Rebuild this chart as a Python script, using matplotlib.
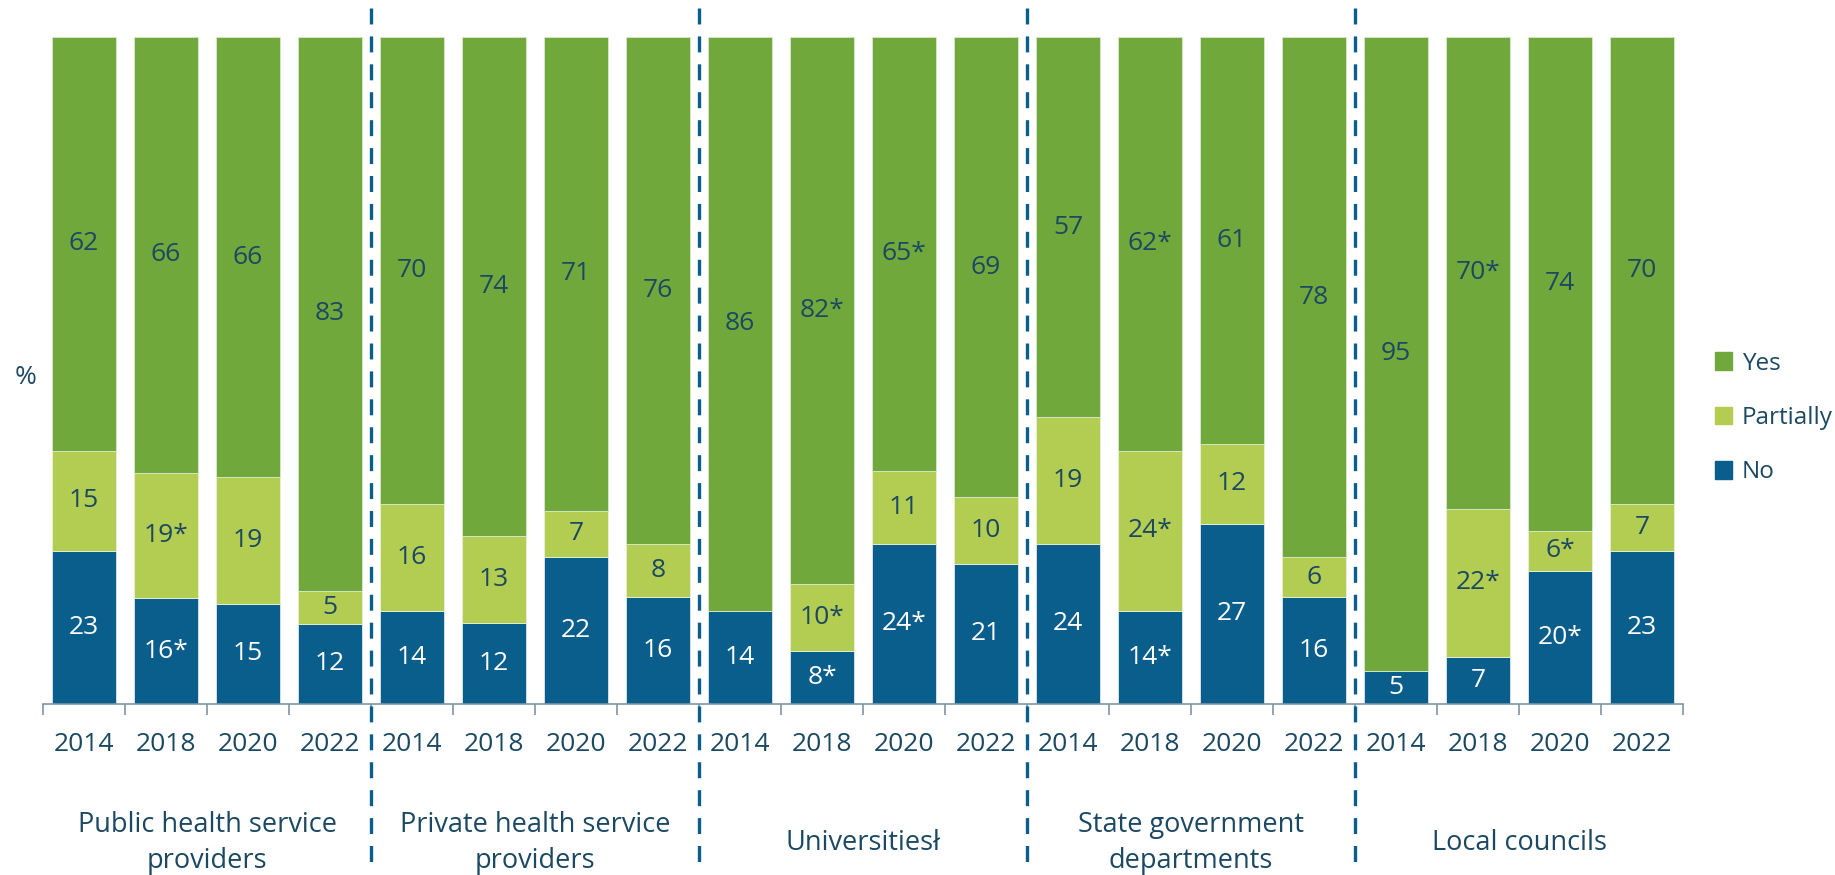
import numpy as np
import matplotlib
matplotlib.use("Agg")
import matplotlib.pyplot as plt
from matplotlib.patches import Patch
from matplotlib.transforms import blended_transform_factory

plt.rcParams['font.family'] = ['Open Sans', 'DejaVu Sans']
plt.rcParams['lines.scale_dashes'] = False

groups = ["Public health service\nproviders", "Private health service\nproviders",
          "Universitiesł", "State government\ndepartments", "Local councils"]
years = ["2014", "2018", "2020", "2022"]

no = [23, 16, 15, 12, 14, 12, 22, 16, 14, 8, 24, 21, 24, 14, 27, 16, 5, 7, 20, 23]
partially = [15, 19, 19, 5, 16, 13, 7, 8, 0, 10, 11, 10, 19, 24, 12, 6, 0, 22, 6, 7]
yes = [62, 66, 66, 83, 70, 74, 71, 76, 86, 82, 65, 69, 57, 62, 61, 78, 95, 70, 74, 70]

# significant change flags (marked with *)
no_sig = [0, 1, 0, 0, 0, 0, 0, 0, 0, 1, 1, 0, 0, 1, 0, 0, 0, 0, 1, 0]
partially_sig = [0, 1, 0, 0, 0, 0, 0, 0, 0, 1, 0, 0, 0, 1, 0, 0, 0, 1, 1, 0]
yes_sig = [0, 0, 0, 0, 0, 0, 0, 0, 0, 1, 1, 0, 0, 1, 0, 0, 0, 1, 0, 0]

C_YES = "#71a83c"
C_PART = "#b3cc52"
C_NO = "#0a5e8c"
C_TEXT = "#1b4862"

W, H = 1835, 875
fig = plt.figure(figsize=(W / 100, H / 100), dpi=100)
left, right, top, bottom = 43, 1683, 37, 704
ax = fig.add_axes([left / W, (H - bottom) / H, (right - left) / W, (bottom - top) / H])

n = len(no)
x = np.arange(n)
no_a = np.array(no, float)
pa_a = np.array(partially, float)
ye_a = np.array(yes, float)
total = no_a + pa_a + ye_a
no_h = no_a / total * 100
pa_h = pa_a / total * 100
ye_h = ye_a / total * 100

bw = 0.79
ax.bar(x, no_h, bw, color=C_NO, edgecolor="#dfe8ee", linewidth=0.6)
ax.bar(x, pa_h, bw, bottom=no_h, color=C_PART, edgecolor="#e8f0d8", linewidth=0.6)
ax.bar(x, ye_h, bw, bottom=no_h + pa_h, color=C_YES, edgecolor="#dbe8cf", linewidth=0.6)

fs = 19
for i in range(n):
    segs = [(no[i], no_sig[i], 0, no_h[i], "white"),
            (partially[i], partially_sig[i], no_h[i], pa_h[i], C_TEXT),
            (yes[i], yes_sig[i], no_h[i] + pa_h[i], ye_h[i], C_TEXT)]
    for val, sig, b, h, col in segs:
        if val == 0:
            continue
        ax.text(i, b + h / 2, f"{val}{'*' if sig else ''}", ha="center", va="center",
                color=col, fontsize=fs)

ax.set_xlim(-0.5, n - 0.5)
ax.set_ylim(0, 100)
for s in ["top", "right", "left"]:
    ax.spines[s].set_visible(False)
ax.spines["bottom"].set_color("#7d95a4")
ax.spines["bottom"].set_linewidth(1.2)
ax.set_yticks([])
ax.set_xticks(x)
ax.set_xticklabels(years * len(groups), fontsize=fs, color=C_TEXT)
ax.tick_params(axis="x", which="major", length=0, pad=20)
ax.set_xticks(np.arange(-0.5, n, 1), minor=True)
ax.tick_params(axis="x", which="minor", length=8, width=1.2, color="#7d95a4")

trans = blended_transform_factory(ax.transData, ax.transAxes)
ph = bottom - top
for g, name in enumerate(groups):
    ax.text(g * 4 + 1.5, (bottom - 843) / ph, name, transform=trans, ha="center",
            va="center", fontsize=19.5, color=C_TEXT, linespacing=1.38)

# dashed separators between organisation types
for g in range(1, len(groups)):
    ax.plot([g * 4 - 0.5, g * 4 - 0.5], [(bottom - 8) / ph, (bottom - 868) / ph],
            transform=trans, clip_on=False, color=C_NO, linewidth=2.4,
            dashes=(11.5, 8.6), zorder=5)

fig.text(26 / W, 1 - 377 / H, "%", fontsize=fs, color=C_TEXT, ha="center", va="center")

handles = [Patch(color=C_YES, label="Yes"), Patch(color=C_PART, label="Partially"),
           Patch(color=C_NO, label="No")]
leg = fig.legend(handles=handles, loc="center left", bbox_to_anchor=(1693 / W, 1 - 418 / H),
                 frameon=False, fontsize=17.5, handlelength=0.72, handleheight=0.72,
                 handletextpad=0.4, labelspacing=1.25)
for t in leg.get_texts():
    t.set_color(C_TEXT)

fig.savefig("out.png", dpi=100)
